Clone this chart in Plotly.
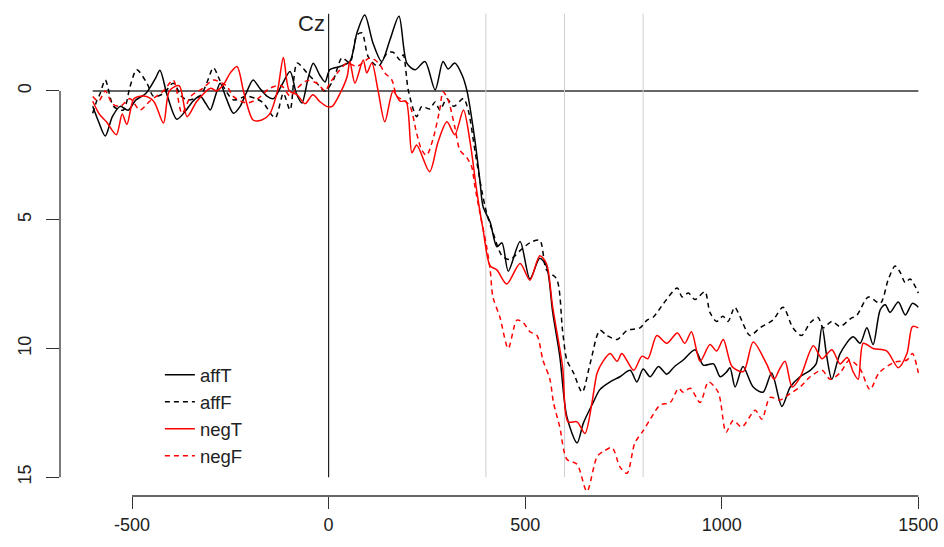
import plotly.graph_objects as go

# ---- data (time in ms, amplitude in microvolts; y axis inverted) ----
affT_t = [-600,-585,-568,-550,-530,-510,-490,-465,-440,-429,-410,-386,-365,-345,-327,-312,-301,-288,-276,-260,
          -242,-225,-210,-192,-175,-157,-140,-120,-98,-82,-68,-52,-39,-22,-9,3,29,54,72,92,113,135,156,179,199,220,
          245,271,291,304,321,340,352,372,385,393,411,428,441,457,487,512,537,554,570,588,606,632,648,673,690,716,
          741,767,784,800,818,839,860,880,902,932,953,979,996,1013,1021,1034,1054,1080,1105,1127,1153,1174,1199,
          1225,1240,1255,1267,1280,1301,1334,1352,1369,1385,1403,1416,1428,1449,1467,1485,1500]
affT_v = [0.6,1.2,1.75,1.0,0.6,0.75,0.35,0.1,-0.5,-0.8,0.2,1.1,0.8,0.4,0.2,0.5,0.74,0.2,-0.3,0.3,
          0.87,0.6,0.1,-0.42,-0.1,0.2,0.3,-0.2,-0.75,0.1,0.47,-0.5,-1.07,-0.6,-0.35,-0.82,-0.95,-1.14,-2.25,-2.95,-1.85,-1.14,-1.98,-2.9,-1.08,-0.82,
          -1.14,-0.04,-1.14,-0.85,-1.08,-0.6,0.0,1.9,3.5,4.5,5.1,6.05,5.9,7.0,5.85,7.3,6.5,6.8,8.6,10.3,12.65,13.67,12.9,12.1,11.6,11.3,
          11.1,10.85,11.3,10.8,11.1,10.7,11.0,10.7,10.45,10.05,10.65,10.6,11.1,10.9,10.75,11.5,10.7,11.5,11.7,10.95,12.25,11.5,11.1,
          10.85,10.6,9.15,10.3,11.2,10.2,9.55,9.8,9.2,9.85,8.5,8.3,8.6,8.2,8.7,8.25,8.4]

affF_t = [-600,-590,-581,-568,-547,-522,-505,-488,-462,-445,-420,-395,-375,-360,-327,-310,-293,-276,-242,-208,
          -185,-166,-136,-115,-98,-80,-55,-30,-9,12,34,54,72,85,101,126,149,164,182,190,203,224,237,257,271,283,
          301,318,343,355,373,390,402,418,441,461,487,512,537,554,580,595,606,623,645,665,690,708,734,759,792,810,
          826,852,887,899,915,932,957,970,987,1003,1016,1033,1046,1072,1097,1130,1156,1181,1203,1225,1245,1258,
          1280,1301,1327,1344,1373,1403,1424,1441,1454,1467,1479,1500]
affF_v = [0.87,0.4,0.1,-0.42,0.6,0.74,-0.17,-0.82,-0.3,0.22,0.1,-0.3,0.2,0.35,0.2,-0.3,-0.9,-0.4,0.35,0.2,
          0.3,0.47,1.05,0.1,0.74,-1.08,-0.7,-0.3,0.0,-0.42,-1.28,-1.1,-2.17,-2.25,-1.32,-0.95,-1.47,-1.5,-1.2,-1.4,0.0,1.0,0.6,0.7,0.43,0.74,
          0.3,0.6,0.3,0.74,2.4,3.9,4.75,5.5,6.4,6.55,6.2,5.9,5.8,6.95,7.3,9.3,10.45,10.95,11.7,10.6,9.3,9.5,9.65,9.3,9.2,8.9,
          8.78,8.25,7.65,8.0,7.85,8.1,7.8,8.6,8.95,8.75,8.95,8.4,8.75,9.5,9.2,8.9,8.4,9.2,9.5,9.0,8.8,9.2,
          8.95,9.15,8.85,8.7,8.0,8.25,7.3,6.8,7.05,7.45,7.3,7.85]

negT_t = [-600,-583,-565,-540,-525,-513,-495,-470,-445,-420,-405,-380,-360,-335,-300,-285,-265,-250,-233,-215,
          -192,-170,-150,-130,-115,-100,-80,-60,-40,-22,-5,9,29,47,54,67,88,97,110,126,143,164,182,197,212,224,
          257,278,301,321,343,360,377,393,411,428,453,487,512,537,554,570,595,609,632,652,670,683,698,716,734,746,
          776,797,812,835,860,887,906,923,945,970,987,1004,1026,1055,1080,1114,1133,1147,1161,1179,1200,1233,1255,
          1280,1301,1319,1334,1347,1360,1385,1420,1449,1471,1485,1500]
negT_v = [0.4,0.9,1.2,1.7,0.9,1.3,0.3,0.2,0.4,1.25,0.0,-0.2,1.0,0.4,-0.1,0.0,-0.3,-0.7,-0.95,0.1,
          1.13,1.13,0.9,0.0,-1.3,0.0,0.15,0.5,0.15,0.42,0.6,0.6,0.1,-0.55,-1.14,-0.3,-1.2,-0.7,-1.08,0.0,1.2,0.0,0.4,0.4,2.4,2.1,
          3.14,2.0,1.2,1.7,0.74,2.0,3.9,5.4,6.8,6.95,7.5,6.7,7.35,6.4,6.7,8.4,10.7,12.85,12.85,13.3,12.1,10.95,10.5,10.2,10.5,10.2,
          10.85,10.3,10.4,9.5,9.8,9.4,9.8,9.35,10.5,9.85,10.1,9.65,10.7,10.9,9.75,10.6,11.2,10.8,10.5,11.5,11.1,9.9,10.4,
          10.05,10.6,10.35,10.9,11.2,9.8,10.0,10.1,10.75,10.2,9.15,9.2]

negF_t = [-600,-585,-568,-550,-530,-505,-480,-455,-420,-395,-373,-350,-320,-293,-260,-242,-208,-180,-150,-120,
          -98,-80,-55,-30,-9,3,25,47,72,105,126,143,161,174,190,207,224,237,249,265,283,291,304,321,334,352,364,
          372,385,402,411,418,436,457,479,495,512,530,545,563,572,588,606,632,657,683,699,721,741,759,779,800,818,
          843,869,890,902,920,945,966,991,1011,1029,1051,1085,1102,1123,1148,1174,1199,1225,1255,1276,1301,1325,
          1352,1377,1400,1437,1471,1485,1500]
negF_v = [0.22,0.4,0.0,0.5,0.6,0.3,0.74,0.4,0.0,-0.42,0.87,0.2,-0.1,-0.42,-0.2,0.22,0.47,0.3,-0.1,-0.2,
          0.2,-0.1,-0.4,-0.3,0.0,-0.3,-0.75,-1.08,-0.95,-1.28,-1.1,-0.7,-0.42,0.22,0.35,0.6,1.65,2.3,2.5,1.9,0.7,0.03,0.35,1.4,2.3,2.6,2.95,
          3.7,4.75,6.05,6.95,8.0,8.8,10.0,8.9,9.0,9.35,9.5,10.45,11.2,12.1,13.05,14.3,14.5,15.55,14.2,14.0,13.85,14.6,14.85,13.67,13.2,12.75,
          12.2,12.1,11.55,11.7,11.55,12.1,11.3,11.7,13.25,12.8,13.05,12.4,12.75,11.9,12.0,11.75,11.5,11.1,10.85,11.2,10.95,10.45,
          10.8,11.6,10.95,10.55,10.45,10.2,10.95]

x_ticks = [-500, 0, 500, 1000, 1500]
y_ticks = [0, 5, 10, 15]
marker_lines = [400, 600, 800]
series = [
    ("affT", affT_t, affT_v, "black", "solid"),
    ("affF", affF_t, affF_v, "black", "5px,4px"),
    ("negT", negT_t, negT_v, "red", "solid"),
    ("negF", negF_t, negF_v, "red", "5px,4px"),
]

FONT = "Liberation Sans, Arial, Helvetica, sans-serif"

fig = go.Figure()
for name, t, v, col, dash in series:
    fig.add_trace(go.Scatter(x=t, y=v, mode="lines", name=name,
                             line=dict(color=col, width=1.5, dash=dash, shape="spline", smoothing=0.8)))

shapes = []
# zero line
shapes.append(dict(type="line", xref="x", yref="y", x0=-600, x1=1500, y0=0, y1=0,
                   line=dict(color="#333", width=1.5), layer="below"))
# stimulus onset line
shapes.append(dict(type="line", xref="x", yref="y", x0=0, x1=0, y0=-3, y1=15,
                   line=dict(color="#222", width=1.2), layer="below"))
for m in marker_lines:
    shapes.append(dict(type="line", xref="x", yref="y", x0=m, x1=m, y0=-3, y1=15,
                       line=dict(color="#d0d0d0", width=1), layer="below"))
# R-style axis lines spanning the tick range
shapes.append(dict(type="line", xref="x", yref="paper", x0=x_ticks[0], x1=x_ticks[-1], y0=0, y1=0,
                   line=dict(color="#333", width=1.3)))
shapes.append(dict(type="line", xref="paper", yref="y", x0=0, x1=0, y0=y_ticks[0], y1=y_ticks[-1],
                   line=dict(color="#333", width=1.3)))

fig.update_layout(
    width=944, height=547,
    margin=dict(l=60, r=0, t=0, b=51),
    paper_bgcolor="white", plot_bgcolor="white",
    font=dict(family=FONT, size=18, color="#222"),
    shapes=shapes,
    showlegend=True,
    legend=dict(x=0.113, y=0.282, xanchor="left", yanchor="top",
                bgcolor="rgba(0,0,0,0)", font=dict(size=18.5, color="#222"),
                tracegroupgap=0),
    annotations=[dict(x=0, y=-2.6, xref="x", yref="y", text="Cz", showarrow=False,
                      xanchor="right", yanchor="middle", xshift=-2,
                      font=dict(size=22, color="#222", family=FONT))],
)
fig.update_xaxes(range=[-683.2, 1565.3], tickvals=x_ticks, ticktext=[str(v) for v in x_ticks],
                 showgrid=False, zeroline=False, showline=False,
                 ticks="outside", ticklen=12, tickwidth=1.2, tickcolor="#333")
fig.update_yaxes(range=[15.73, -3.53], tickvals=y_ticks, ticktext=[str(v) for v in y_ticks],
                 showgrid=False, zeroline=False, showline=False,
                 ticks="outside", ticklen=13, tickwidth=1.2, tickcolor="#333",
                 tickangle=-90, ticklabelstandoff=8)

fig.write_html("out.html")
